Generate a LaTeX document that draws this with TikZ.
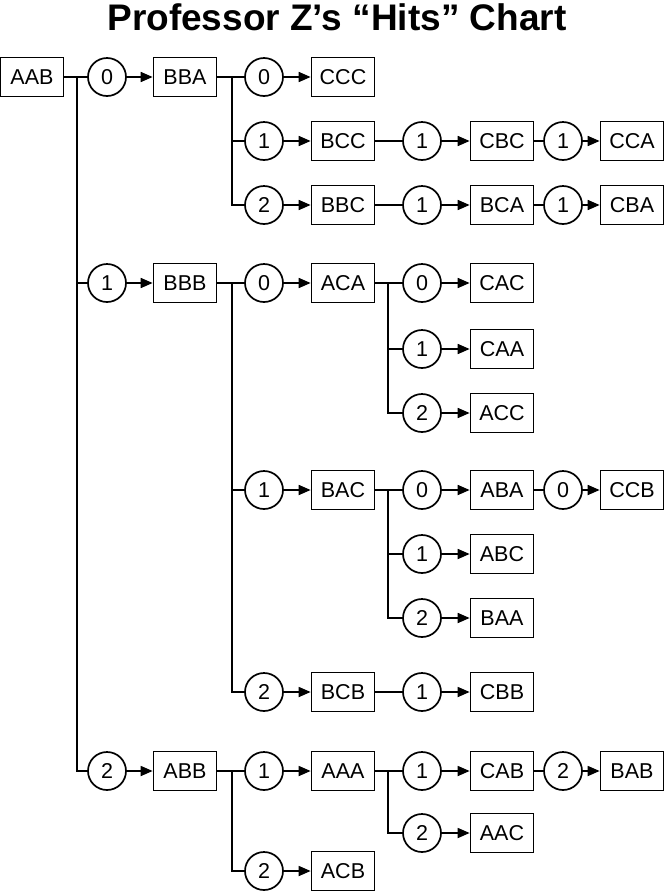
\documentclass[tikz,border=0pt]{standalone}
\usepackage{fontspec}
\setmainfont{Liberation Sans}
\usetikzlibrary{arrows.meta}
\begin{document}
\begin{tikzpicture}[x=1pt,y=-1pt,line width=1.7pt,
  box/.style={draw,rectangle,minimum width=63pt,minimum height=39pt,inner sep=0pt,font=\fontsize{21.5}{25}\selectfont},
  hit/.style={draw,circle,minimum size=38pt,inner sep=0pt,font=\fontsize{21.5}{25}\selectfont},
  arr/.style={-{Triangle[length=12pt,width=10pt]}}]
\useasboundingbox (0,0) rectangle (666,892);
\node[font=\fontsize{37}{42}\selectfont\bfseries] (title) at (337,17) {Professor Z’s “Hits” Chart};
% level 0
\node[box] (AAB) at (32,77) {AAB};
\node[hit] (h1a) at (107,77) {0};
\node[hit] (h1b) at (107,283) {1};
\node[hit] (h1c) at (107,771) {2};
\node[box] (BBA) at (185,77) {BBA};
\node[box] (BBB) at (185,283) {BBB};
\node[box] (ABB) at (185,771) {ABB};
\coordinate (j0) at (77,77);
\draw (AAB.east) -- (h1a.west);
\draw (j0) |- (h1b.west);
\draw (j0) |- (h1c.west);
\draw[arr] (h1a) -- (BBA);
\draw[arr] (h1b) -- (BBB);
\draw[arr] (h1c) -- (ABB);
% under BBA
\node[hit] (h2a) at (264,77) {0};
\node[hit] (h2b) at (264,141) {1};
\node[hit] (h2c) at (264,205) {2};
\node[box] (CCC) at (343,77) {CCC};
\node[box] (BCC) at (343,141) {BCC};
\node[box] (BBC) at (343,205) {BBC};
\coordinate (j1) at (232,77);
\draw (BBA.east) -- (h2a.west);
\draw (j1) |- (h2b.west);
\draw (j1) |- (h2c.west);
\draw[arr] (h2a) -- (CCC);
\draw[arr] (h2b) -- (BCC);
\draw[arr] (h2c) -- (BBC);
\node[hit] (h3a) at (422,141) {1};
\node[box] (CBC) at (502,141) {CBC};
\node[hit] (h4a) at (563,141) {1};
\node[box] (CCA) at (632,141) {CCA};
\draw (BCC) -- (h3a);
\draw[arr] (h3a) -- (CBC);
\draw (CBC) -- (h4a);
\draw[arr] (h4a) -- (CCA);
\node[hit] (h3b) at (422,205) {1};
\node[box] (BCA) at (502,205) {BCA};
\node[hit] (h4b) at (563,205) {1};
\node[box] (CBA) at (632,205) {CBA};
\draw (BBC) -- (h3b);
\draw[arr] (h3b) -- (BCA);
\draw (BCA) -- (h4b);
\draw[arr] (h4b) -- (CBA);
% under BBB
\node[hit] (h2d) at (264,283) {0};
\node[hit] (h2e) at (264,490) {1};
\node[hit] (h2f) at (264,692) {2};
\node[box] (ACA) at (343,283) {ACA};
\node[box] (BAC) at (343,490) {BAC};
\node[box] (BCB) at (343,692) {BCB};
\coordinate (j2) at (232,283);
\draw (BBB.east) -- (h2d.west);
\draw (j2) |- (h2e.west);
\draw (j2) |- (h2f.west);
\draw[arr] (h2d) -- (ACA);
\draw[arr] (h2e) -- (BAC);
\draw[arr] (h2f) -- (BCB);
% under ACA
\node[hit] (h3c) at (422,283) {0};
\node[hit] (h3d) at (422,349) {1};
\node[hit] (h3e) at (422,413) {2};
\node[box] (CAC) at (502,283) {CAC};
\node[box] (CAA) at (502,349) {CAA};
\node[box] (ACC) at (502,413) {ACC};
\coordinate (j3) at (388,283);
\draw (ACA.east) -- (h3c.west);
\draw (j3) |- (h3d.west);
\draw (j3) |- (h3e.west);
\draw[arr] (h3c) -- (CAC);
\draw[arr] (h3d) -- (CAA);
\draw[arr] (h3e) -- (ACC);
% under BAC
\node[hit] (h3f) at (422,490) {0};
\node[hit] (h3g) at (422,554) {1};
\node[hit] (h3h) at (422,618) {2};
\node[box] (ABA) at (502,490) {ABA};
\node[box] (ABC) at (502,554) {ABC};
\node[box] (BAA) at (502,618) {BAA};
\coordinate (j4) at (388,490);
\draw (BAC.east) -- (h3f.west);
\draw (j4) |- (h3g.west);
\draw (j4) |- (h3h.west);
\draw[arr] (h3f) -- (ABA);
\draw[arr] (h3g) -- (ABC);
\draw[arr] (h3h) -- (BAA);
\node[hit] (h4c) at (563,490) {0};
\node[box] (CCB) at (632,490) {CCB};
\draw (ABA) -- (h4c);
\draw[arr] (h4c) -- (CCB);
% under BCB
\node[hit] (h3i) at (422,692) {1};
\node[box] (CBB) at (502,692) {CBB};
\draw (BCB) -- (h3i);
\draw[arr] (h3i) -- (CBB);
% under ABB
\node[hit] (h2g) at (264,771) {1};
\node[hit] (h2h) at (264,871) {2};
\node[box] (AAA) at (343,771) {AAA};
\node[box] (ACB) at (343,871) {ACB};
\coordinate (j5) at (232,771);
\draw (ABB.east) -- (h2g.west);
\draw (j5) |- (h2h.west);
\draw[arr] (h2g) -- (AAA);
\draw[arr] (h2h) -- (ACB);
% under AAA
\node[hit] (h3j) at (422,771) {1};
\node[hit] (h3k) at (422,833) {2};
\node[box] (CAB) at (502,771) {CAB};
\node[box] (AAC) at (502,833) {AAC};
\coordinate (j6) at (388,771);
\draw (AAA.east) -- (h3j.west);
\draw (j6) |- (h3k.west);
\draw[arr] (h3j) -- (CAB);
\draw[arr] (h3k) -- (AAC);
\node[hit] (h4d) at (563,771) {2};
\node[box] (BAB) at (632,771) {BAB};
\draw (CAB) -- (h4d);
\draw[arr] (h4d) -- (BAB);
\end{tikzpicture}
\end{document}
